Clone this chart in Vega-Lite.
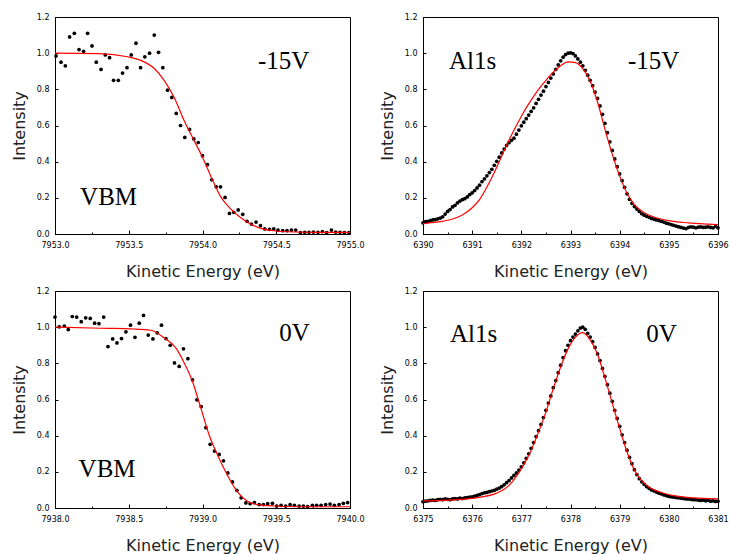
{
  "$schema": "https://vega.github.io/schema/vega-lite/v6.json",
  "padding": {"left": 10, "top": 12, "right": 0, "bottom": 5},
  "background": "white",
  "config": {
    "view": {"stroke": "black", "strokeWidth": 1},
    "axis": {
      "grid": false,
      "domainColor": "black",
      "tickColor": "black",
      "labelColor": "black",
      "labelFont": "DejaVu Sans",
      "labelFontSize": 8,
      "titleFont": "DejaVu Sans",
      "titleFontSize": 16,
      "titleFontWeight": "normal",
      "titleColor": "#222222",
      "labelFlush": false,
      "labelOverlap": false,
      "tickCount": 40
    },
    "axisX": {"titlePadding": 12, "labelPadding": 11},
    "axisY": {"titlePadding": 9, "labelPadding": 9, "tickSize": -3}
  },
  "columns": 2,
  "bounds": "flush",
  "spacing": {"row": 57, "column": 73},
  "concat": [
    {
      "width": 295, "height": 217,
      "layer": [
        {
          "data": {"name": "vbm15"},
          "mark": {"type": "point", "filled": true, "color": "black", "size": 14, "opacity": 1},
          "encoding": {
            "x": {"field": "e", "type": "quantitative", "scale": {"domain": [7953, 7955], "nice": false, "zero": false},
                  "axis": {"title": "Kinetic Energy (eV)", "tickCount": 40, "values": [7953, 7953.25, 7953.5, 7953.75, 7954, 7954.25, 7954.5, 7954.75, 7955],
                           "labelExpr": "datum.value % 0.5 == 0 ? format(datum.value, '.1f') : ''", "labelOverlap": false,
                           "tickSize": {"condition": {"test": "datum.value % 0.5 != 0", "value": -2}, "value": -4}}},
            "y": {"field": "i", "type": "quantitative", "scale": {"domain": [0, 1.2], "nice": false},
                  "axis": {"title": "Intensity", "tickCount": 40, "values": [0, 0.2, 0.4, 0.6, 0.8, 1.0, 1.2], "format": ".1f", "labelOverlap": false}}
          }
        },
        {
          "data": {"name": "vbm15fit"},
          "mark": {"type": "line", "color": "#ff0000", "strokeWidth": 1.2, "interpolate": "monotone"},
          "encoding": {"x": {"field": "e", "type": "quantitative"}, "y": {"field": "i", "type": "quantitative"}}
        },
        {"data": {"values": [{}]}, "mark": {"type": "text", "text": "-15V", "font": "Liberation Serif", "fontSize": 25, "align": "left", "baseline": "alphabetic", "color": "black"}, "encoding": {"x": {"datum": 7954.376}, "y": {"datum": 0.913}}},
        {"data": {"values": [{}]}, "mark": {"type": "text", "text": "VBM", "font": "Liberation Serif", "fontSize": 25, "align": "left", "baseline": "alphabetic", "color": "black"}, "encoding": {"x": {"datum": 7953.17}, "y": {"datum": 0.16}}}
      ]
    },
    {
      "width": 295, "height": 217,
      "layer": [
        {
          "data": {"name": "al15"},
          "mark": {"type": "point", "filled": true, "color": "black", "size": 14, "opacity": 1},
          "encoding": {
            "x": {"field": "e", "type": "quantitative", "scale": {"domain": [6390, 6396], "nice": false, "zero": false},
                  "axis": {"title": "Kinetic Energy (eV)", "tickCount": 40, "values": [6390, 6390.5, 6391, 6391.5, 6392, 6392.5, 6393, 6393.5, 6394, 6394.5, 6395, 6395.5, 6396],
                           "labelExpr": "datum.value % 1 == 0 ? format(datum.value, 'd') : ''", "labelOverlap": false,
                           "tickSize": {"condition": {"test": "datum.value % 1 != 0", "value": -2}, "value": -4}}},
            "y": {"field": "i", "type": "quantitative", "scale": {"domain": [0, 1.2], "nice": false},
                  "axis": {"title": "Intensity", "tickCount": 40, "values": [0, 0.2, 0.4, 0.6, 0.8, 1.0, 1.2], "format": ".1f", "labelOverlap": false}}
          }
        },
        {
          "data": {"name": "al15fit"},
          "mark": {"type": "line", "color": "#ff0000", "strokeWidth": 1.2, "interpolate": "monotone"},
          "encoding": {"x": {"field": "e", "type": "quantitative"}, "y": {"field": "i", "type": "quantitative"}}
        },
        {"data": {"values": [{}]}, "mark": {"type": "text", "text": "Al1s", "font": "Liberation Serif", "fontSize": 25, "align": "left", "baseline": "alphabetic", "color": "black"}, "encoding": {"x": {"datum": 6390.53}, "y": {"datum": 0.913}}},
        {"data": {"values": [{}]}, "mark": {"type": "text", "text": "-15V", "font": "Liberation Serif", "fontSize": 25, "align": "left", "baseline": "alphabetic", "color": "black"}, "encoding": {"x": {"datum": 6394.17}, "y": {"datum": 0.913}}}
      ]
    },
    {
      "width": 295, "height": 217,
      "layer": [
        {
          "data": {"name": "vbm0"},
          "mark": {"type": "point", "filled": true, "color": "black", "size": 14, "opacity": 1},
          "encoding": {
            "x": {"field": "e", "type": "quantitative", "scale": {"domain": [7938, 7940], "nice": false, "zero": false},
                  "axis": {"title": "Kinetic Energy (eV)", "tickCount": 40, "values": [7938, 7938.25, 7938.5, 7938.75, 7939, 7939.25, 7939.5, 7939.75, 7940],
                           "labelExpr": "datum.value % 0.5 == 0 ? format(datum.value, '.1f') : ''", "labelOverlap": false,
                           "tickSize": {"condition": {"test": "datum.value % 0.5 != 0", "value": -2}, "value": -4}}},
            "y": {"field": "i", "type": "quantitative", "scale": {"domain": [0, 1.2], "nice": false},
                  "axis": {"title": "Intensity", "tickCount": 40, "values": [0, 0.2, 0.4, 0.6, 0.8, 1.0, 1.2], "format": ".1f", "labelOverlap": false}}
          }
        },
        {
          "data": {"name": "vbm0fit"},
          "mark": {"type": "line", "color": "#ff0000", "strokeWidth": 1.2, "interpolate": "monotone"},
          "encoding": {"x": {"field": "e", "type": "quantitative"}, "y": {"field": "i", "type": "quantitative"}}
        },
        {"data": {"values": [{}]}, "mark": {"type": "text", "text": "0V", "font": "Liberation Serif", "fontSize": 25, "align": "left", "baseline": "alphabetic", "color": "black"}, "encoding": {"x": {"datum": 7939.52}, "y": {"datum": 0.922}}},
        {"data": {"values": [{}]}, "mark": {"type": "text", "text": "VBM", "font": "Liberation Serif", "fontSize": 25, "align": "left", "baseline": "alphabetic", "color": "black"}, "encoding": {"x": {"datum": 7938.16}, "y": {"datum": 0.172}}}
      ]
    },
    {
      "width": 295, "height": 217,
      "layer": [
        {
          "data": {"name": "al0"},
          "mark": {"type": "point", "filled": true, "color": "black", "size": 14, "opacity": 1},
          "encoding": {
            "x": {"field": "e", "type": "quantitative", "scale": {"domain": [6375, 6381], "nice": false, "zero": false},
                  "axis": {"title": "Kinetic Energy (eV)", "tickCount": 40, "values": [6375, 6375.5, 6376, 6376.5, 6377, 6377.5, 6378, 6378.5, 6379, 6379.5, 6380, 6380.5, 6381],
                           "labelExpr": "datum.value % 1 == 0 ? format(datum.value, 'd') : ''", "labelOverlap": false,
                           "tickSize": {"condition": {"test": "datum.value % 1 != 0", "value": -2}, "value": -4}}},
            "y": {"field": "i", "type": "quantitative", "scale": {"domain": [0, 1.2], "nice": false},
                  "axis": {"title": "Intensity", "tickCount": 40, "values": [0, 0.2, 0.4, 0.6, 0.8, 1.0, 1.2], "format": ".1f", "labelOverlap": false}}
          }
        },
        {
          "data": {"name": "al0fit"},
          "mark": {"type": "line", "color": "#ff0000", "strokeWidth": 1.2, "interpolate": "monotone"},
          "encoding": {"x": {"field": "e", "type": "quantitative"}, "y": {"field": "i", "type": "quantitative"}}
        },
        {"data": {"values": [{}]}, "mark": {"type": "text", "text": "Al1s", "font": "Liberation Serif", "fontSize": 25, "align": "left", "baseline": "alphabetic", "color": "black"}, "encoding": {"x": {"datum": 6375.55}, "y": {"datum": 0.918}}},
        {"data": {"values": [{}]}, "mark": {"type": "text", "text": "0V", "font": "Liberation Serif", "fontSize": 25, "align": "left", "baseline": "alphabetic", "color": "black"}, "encoding": {"x": {"datum": 6379.54}, "y": {"datum": 0.918}}}
      ]
    }
  ],
  "datasets": {
    "vbm15": [
      {"e":7953.007,"i":0.985},{"e":7953.041,"i":0.95},{"e":7953.070,"i":0.93},{"e":7953.099,"i":1.09},{"e":7953.131,"i":1.11},
      {"e":7953.163,"i":1.02},{"e":7953.194,"i":1.01},{"e":7953.221,"i":1.11},{"e":7953.251,"i":1.04},{"e":7953.280,"i":0.95},
      {"e":7953.312,"i":0.91},{"e":7953.341,"i":0.99},{"e":7953.370,"i":0.975},{"e":7953.397,"i":0.85},{"e":7953.429,"i":0.85},
      {"e":7953.458,"i":0.89},{"e":7953.488,"i":0.92},{"e":7953.517,"i":0.99},{"e":7953.549,"i":1.055},{"e":7953.580,"i":0.92},
      {"e":7953.609,"i":0.98},{"e":7953.641,"i":1.0},{"e":7953.673,"i":1.10},{"e":7953.702,"i":1.005},{"e":7953.731,"i":0.92},
      {"e":7953.763,"i":0.795},{"e":7953.792,"i":0.755},{"e":7953.822,"i":0.667},{"e":7953.851,"i":0.60},{"e":7953.880,"i":0.534},
      {"e":7953.912,"i":0.578},{"e":7953.941,"i":0.526},{"e":7953.971,"i":0.506},{"e":7954.000,"i":0.433},{"e":7954.034,"i":0.383},
      {"e":7954.063,"i":0.30},{"e":7954.093,"i":0.261},{"e":7954.122,"i":0.261},{"e":7954.153,"i":0.202},{"e":7954.183,"i":0.114},
      {"e":7954.212,"i":0.12},{"e":7954.242,"i":0.133},{"e":7954.273,"i":0.109},{"e":7954.302,"i":0.07},{"e":7954.332,"i":0.055},
      {"e":7954.363,"i":0.066},{"e":7954.393,"i":0.046},{"e":7954.422,"i":0.028},{"e":7954.454,"i":0.026},{"e":7954.483,"i":0.028},
      {"e":7954.512,"i":0.022},{"e":7954.544,"i":0.018},{"e":7954.573,"i":0.018},{"e":7954.603,"i":0.022},{"e":7954.632,"i":0.022},
      {"e":7954.664,"i":0.007},{"e":7954.693,"i":0.009},{"e":7954.722,"i":0.009},{"e":7954.752,"i":0.011},{"e":7954.783,"i":0.009},
      {"e":7954.813,"i":0.013},{"e":7954.842,"i":0.007},{"e":7954.874,"i":0.022},{"e":7954.903,"i":0.011},{"e":7954.932,"i":0.009},
      {"e":7954.962,"i":0.007},{"e":7954.993,"i":0.007}
    ],
    "vbm15fit": [
      {"e":7953.0,"i":1.0},{"e":7953.3,"i":0.998},{"e":7953.492,"i":0.98},{"e":7953.582,"i":0.96},{"e":7953.673,"i":0.915},
      {"e":7953.74,"i":0.85},{"e":7953.808,"i":0.755},{"e":7953.876,"i":0.626},{"e":7953.944,"i":0.515},{"e":7954.0,"i":0.425},
      {"e":7954.056,"i":0.32},{"e":7954.124,"i":0.205},{"e":7954.192,"i":0.138},{"e":7954.26,"i":0.09},{"e":7954.327,"i":0.055},
      {"e":7954.395,"i":0.031},{"e":7954.485,"i":0.018},{"e":7954.621,"i":0.011},{"e":7954.779,"i":0.009},{"e":7955.0,"i":0.009}
    ],
    "vbm0": [
      {"e":7938.000,"i":1.056},{"e":7938.029,"i":1.002},{"e":7938.063,"i":1.006},{"e":7938.090,"i":0.987},{"e":7938.117,"i":1.059},
      {"e":7938.147,"i":1.056},{"e":7938.178,"i":1.03},{"e":7938.208,"i":1.052},{"e":7938.239,"i":1.048},{"e":7938.269,"i":1.022},
      {"e":7938.298,"i":1.019},{"e":7938.330,"i":1.056},{"e":7938.359,"i":0.893},{"e":7938.391,"i":0.935},{"e":7938.420,"i":0.913},
      {"e":7938.451,"i":0.937},{"e":7938.481,"i":0.974},{"e":7938.512,"i":1.011},{"e":7938.542,"i":0.944},{"e":7938.571,"i":1.022},
      {"e":7938.600,"i":1.065},{"e":7938.632,"i":0.956},{"e":7938.664,"i":0.935},{"e":7938.693,"i":0.969},{"e":7938.722,"i":1.011},
      {"e":7938.752,"i":0.937},{"e":7938.781,"i":0.9},{"e":7938.810,"i":0.802},{"e":7938.842,"i":0.783},{"e":7938.871,"i":0.88},
      {"e":7938.901,"i":0.826},{"e":7938.932,"i":0.709},{"e":7938.962,"i":0.598},{"e":7938.991,"i":0.561},{"e":7939.023,"i":0.444},
      {"e":7939.052,"i":0.352},{"e":7939.081,"i":0.315},{"e":7939.113,"i":0.296},{"e":7939.142,"i":0.261},{"e":7939.172,"i":0.194},
      {"e":7939.203,"i":0.144},{"e":7939.233,"i":0.098},{"e":7939.262,"i":0.056},{"e":7939.294,"i":0.028},{"e":7939.323,"i":0.024},
      {"e":7939.352,"i":0.030},{"e":7939.384,"i":0.019},{"e":7939.413,"i":0.019},{"e":7939.442,"i":0.024},{"e":7939.474,"i":0.026},
      {"e":7939.503,"i":0.011},{"e":7939.533,"i":0.015},{"e":7939.564,"i":0.011},{"e":7939.594,"i":0.019},{"e":7939.623,"i":0.015},
      {"e":7939.655,"i":0.011},{"e":7939.684,"i":0.011},{"e":7939.713,"i":0.007},{"e":7939.745,"i":0.015},{"e":7939.774,"i":0.015},
      {"e":7939.804,"i":0.015},{"e":7939.835,"i":0.019},{"e":7939.865,"i":0.022},{"e":7939.894,"i":0.015},{"e":7939.926,"i":0.019},
      {"e":7939.955,"i":0.026},{"e":7939.984,"i":0.030}
    ],
    "vbm0fit": [
      {"e":7938.0,"i":1.0},{"e":7938.312,"i":0.994},{"e":7938.537,"i":0.99},{"e":7938.65,"i":0.983},{"e":7938.74,"i":0.94},
      {"e":7938.819,"i":0.885},{"e":7938.876,"i":0.802},{"e":7938.932,"i":0.70},{"e":7938.989,"i":0.552},{"e":7939.045,"i":0.404},
      {"e":7939.102,"i":0.293},{"e":7939.169,"i":0.181},{"e":7939.237,"i":0.089},{"e":7939.305,"i":0.037},{"e":7939.372,"i":0.019},
      {"e":7939.485,"i":0.011},{"e":7939.666,"i":0.007},{"e":7940.0,"i":0.007}
    ],
    "al15": [
      {"e":6390.00,"i":0.062},{"e":6390.05,"i":0.068},{"e":6390.10,"i":0.070},{"e":6390.15,"i":0.074},{"e":6390.20,"i":0.078},
      {"e":6390.25,"i":0.080},{"e":6390.30,"i":0.084},{"e":6390.35,"i":0.088},{"e":6390.40,"i":0.095},{"e":6390.45,"i":0.110},
      {"e":6390.50,"i":0.125},{"e":6390.55,"i":0.135},{"e":6390.60,"i":0.150},{"e":6390.65,"i":0.158},{"e":6390.70,"i":0.172},
      {"e":6390.75,"i":0.182},{"e":6390.80,"i":0.190},{"e":6390.85,"i":0.195},{"e":6390.90,"i":0.205},{"e":6390.95,"i":0.218},
      {"e":6391.00,"i":0.228},{"e":6391.05,"i":0.240},{"e":6391.10,"i":0.255},{"e":6391.15,"i":0.270},{"e":6391.20,"i":0.290},
      {"e":6391.25,"i":0.305},{"e":6391.30,"i":0.322},{"e":6391.35,"i":0.340},{"e":6391.40,"i":0.358},{"e":6391.45,"i":0.380},
      {"e":6391.50,"i":0.402},{"e":6391.55,"i":0.425},{"e":6391.60,"i":0.448},{"e":6391.65,"i":0.470},{"e":6391.70,"i":0.490},
      {"e":6391.75,"i":0.505},{"e":6391.80,"i":0.518},{"e":6391.85,"i":0.530},{"e":6391.90,"i":0.552},{"e":6391.95,"i":0.575},
      {"e":6392.00,"i":0.598},{"e":6392.05,"i":0.618},{"e":6392.10,"i":0.638},{"e":6392.15,"i":0.658},{"e":6392.20,"i":0.678},
      {"e":6392.25,"i":0.698},{"e":6392.30,"i":0.722},{"e":6392.35,"i":0.745},{"e":6392.40,"i":0.768},{"e":6392.45,"i":0.790},
      {"e":6392.50,"i":0.815},{"e":6392.55,"i":0.838},{"e":6392.60,"i":0.862},{"e":6392.65,"i":0.885},{"e":6392.70,"i":0.910},
      {"e":6392.75,"i":0.935},{"e":6392.80,"i":0.958},{"e":6392.85,"i":0.978},{"e":6392.90,"i":0.992},{"e":6392.95,"i":1.000},
      {"e":6393.00,"i":1.002},{"e":6393.05,"i":0.998},{"e":6393.10,"i":0.985},{"e":6393.15,"i":0.968},{"e":6393.20,"i":0.950},
      {"e":6393.25,"i":0.930},{"e":6393.30,"i":0.905},{"e":6393.35,"i":0.878},{"e":6393.40,"i":0.850},{"e":6393.45,"i":0.820},
      {"e":6393.50,"i":0.785},{"e":6393.55,"i":0.750},{"e":6393.60,"i":0.708},{"e":6393.65,"i":0.662},{"e":6393.70,"i":0.612},
      {"e":6393.75,"i":0.560},{"e":6393.80,"i":0.510},{"e":6393.85,"i":0.462},{"e":6393.90,"i":0.415},{"e":6393.95,"i":0.372},
      {"e":6394.00,"i":0.332},{"e":6394.05,"i":0.295},{"e":6394.10,"i":0.258},{"e":6394.15,"i":0.222},{"e":6394.20,"i":0.192},
      {"e":6394.25,"i":0.170},{"e":6394.30,"i":0.152},{"e":6394.35,"i":0.138},{"e":6394.40,"i":0.125},{"e":6394.45,"i":0.112},
      {"e":6394.50,"i":0.104},{"e":6394.55,"i":0.098},{"e":6394.60,"i":0.092},{"e":6394.65,"i":0.086},{"e":6394.70,"i":0.082},
      {"e":6394.75,"i":0.078},{"e":6394.80,"i":0.074},{"e":6394.85,"i":0.070},{"e":6394.90,"i":0.066},{"e":6394.95,"i":0.060},
      {"e":6395.00,"i":0.056},{"e":6395.05,"i":0.052},{"e":6395.10,"i":0.048},{"e":6395.15,"i":0.044},{"e":6395.20,"i":0.040},
      {"e":6395.25,"i":0.036},{"e":6395.30,"i":0.033},{"e":6395.35,"i":0.030},{"e":6395.40,"i":0.036},{"e":6395.45,"i":0.040},
      {"e":6395.50,"i":0.038},{"e":6395.55,"i":0.034},{"e":6395.60,"i":0.038},{"e":6395.65,"i":0.040},{"e":6395.70,"i":0.036},
      {"e":6395.75,"i":0.038},{"e":6395.80,"i":0.040},{"e":6395.85,"i":0.036},{"e":6395.90,"i":0.034},{"e":6395.95,"i":0.042},
      {"e":6396.00,"i":0.034}
    ],
    "al15fit": [
      {"e":6390.0,"i":0.058},{"e":6390.3,"i":0.067},{"e":6390.6,"i":0.083},{"e":6390.8,"i":0.105},{"e":6391.0,"i":0.145},
      {"e":6391.15,"i":0.19},{"e":6391.3,"i":0.26},{"e":6391.45,"i":0.34},{"e":6391.6,"i":0.43},{"e":6391.75,"i":0.52},
      {"e":6391.9,"i":0.60},{"e":6392.05,"i":0.675},{"e":6392.2,"i":0.74},{"e":6392.35,"i":0.80},{"e":6392.5,"i":0.85},
      {"e":6392.65,"i":0.895},{"e":6392.8,"i":0.93},{"e":6392.95,"i":0.952},{"e":6393.1,"i":0.948},{"e":6393.25,"i":0.915},
      {"e":6393.4,"i":0.845},{"e":6393.55,"i":0.73},{"e":6393.7,"i":0.58},{"e":6393.85,"i":0.44},{"e":6394.0,"i":0.32},
      {"e":6394.15,"i":0.225},{"e":6394.3,"i":0.162},{"e":6394.5,"i":0.118},{"e":6394.7,"i":0.094},{"e":6395.0,"i":0.074},
      {"e":6395.4,"i":0.062},{"e":6395.8,"i":0.055},{"e":6396.0,"i":0.052}
    ],
    "al0": [
      {"e":6375.00,"i":0.035},{"e":6375.05,"i":0.038},{"e":6375.10,"i":0.040},{"e":6375.15,"i":0.042},{"e":6375.20,"i":0.044},
      {"e":6375.25,"i":0.042},{"e":6375.30,"i":0.046},{"e":6375.35,"i":0.048},{"e":6375.40,"i":0.046},{"e":6375.45,"i":0.050},
      {"e":6375.50,"i":0.048},{"e":6375.55,"i":0.046},{"e":6375.60,"i":0.050},{"e":6375.65,"i":0.052},{"e":6375.70,"i":0.050},
      {"e":6375.75,"i":0.054},{"e":6375.80,"i":0.052},{"e":6375.85,"i":0.056},{"e":6375.90,"i":0.058},{"e":6375.95,"i":0.060},
      {"e":6376.00,"i":0.062},{"e":6376.05,"i":0.066},{"e":6376.10,"i":0.070},{"e":6376.15,"i":0.074},{"e":6376.20,"i":0.080},
      {"e":6376.25,"i":0.084},{"e":6376.30,"i":0.086},{"e":6376.35,"i":0.090},{"e":6376.40,"i":0.094},{"e":6376.45,"i":0.098},
      {"e":6376.50,"i":0.104},{"e":6376.55,"i":0.110},{"e":6376.60,"i":0.118},{"e":6376.65,"i":0.128},{"e":6376.70,"i":0.140},
      {"e":6376.75,"i":0.152},{"e":6376.80,"i":0.166},{"e":6376.85,"i":0.180},{"e":6376.90,"i":0.194},{"e":6376.95,"i":0.210},
      {"e":6377.00,"i":0.228},{"e":6377.05,"i":0.250},{"e":6377.10,"i":0.275},{"e":6377.15,"i":0.300},{"e":6377.20,"i":0.330},
      {"e":6377.25,"i":0.362},{"e":6377.30,"i":0.395},{"e":6377.35,"i":0.428},{"e":6377.40,"i":0.462},{"e":6377.45,"i":0.500},
      {"e":6377.50,"i":0.540},{"e":6377.55,"i":0.580},{"e":6377.60,"i":0.620},{"e":6377.65,"i":0.665},{"e":6377.70,"i":0.705},
      {"e":6377.75,"i":0.748},{"e":6377.80,"i":0.790},{"e":6377.85,"i":0.832},{"e":6377.90,"i":0.870},{"e":6377.95,"i":0.900},
      {"e":6378.00,"i":0.925},{"e":6378.05,"i":0.945},{"e":6378.10,"i":0.962},{"e":6378.15,"i":0.980},{"e":6378.20,"i":0.995},
      {"e":6378.25,"i":1.000},{"e":6378.30,"i":0.988},{"e":6378.35,"i":0.965},{"e":6378.40,"i":0.945},{"e":6378.45,"i":0.920},
      {"e":6378.50,"i":0.888},{"e":6378.55,"i":0.852},{"e":6378.60,"i":0.815},{"e":6378.65,"i":0.772},{"e":6378.70,"i":0.728},
      {"e":6378.75,"i":0.682},{"e":6378.80,"i":0.635},{"e":6378.85,"i":0.590},{"e":6378.90,"i":0.540},{"e":6378.95,"i":0.495},
      {"e":6379.00,"i":0.452},{"e":6379.05,"i":0.405},{"e":6379.10,"i":0.362},{"e":6379.15,"i":0.320},{"e":6379.20,"i":0.280},
      {"e":6379.25,"i":0.245},{"e":6379.30,"i":0.212},{"e":6379.35,"i":0.185},{"e":6379.40,"i":0.162},{"e":6379.45,"i":0.145},
      {"e":6379.50,"i":0.130},{"e":6379.55,"i":0.118},{"e":6379.60,"i":0.108},{"e":6379.65,"i":0.100},{"e":6379.70,"i":0.094},
      {"e":6379.75,"i":0.088},{"e":6379.80,"i":0.082},{"e":6379.85,"i":0.078},{"e":6379.90,"i":0.072},{"e":6379.95,"i":0.068},
      {"e":6380.00,"i":0.064},{"e":6380.05,"i":0.062},{"e":6380.10,"i":0.060},{"e":6380.15,"i":0.058},{"e":6380.20,"i":0.056},
      {"e":6380.25,"i":0.054},{"e":6380.30,"i":0.052},{"e":6380.35,"i":0.050},{"e":6380.40,"i":0.050},{"e":6380.45,"i":0.048},
      {"e":6380.50,"i":0.046},{"e":6380.55,"i":0.046},{"e":6380.60,"i":0.044},{"e":6380.65,"i":0.042},{"e":6380.70,"i":0.044},
      {"e":6380.75,"i":0.040},{"e":6380.80,"i":0.042},{"e":6380.85,"i":0.038},{"e":6380.90,"i":0.040},{"e":6380.95,"i":0.036},
      {"e":6381.00,"i":0.038}
    ],
    "al0fit": [
      {"e":6375.0,"i":0.039},{"e":6375.5,"i":0.044},{"e":6375.9,"i":0.05},{"e":6376.2,"i":0.062},{"e":6376.45,"i":0.077},
      {"e":6376.6,"i":0.095},{"e":6376.75,"i":0.125},{"e":6376.9,"i":0.175},{"e":6377.05,"i":0.24},{"e":6377.2,"i":0.32},
      {"e":6377.35,"i":0.42},{"e":6377.5,"i":0.53},{"e":6377.65,"i":0.66},{"e":6377.8,"i":0.78},{"e":6377.95,"i":0.88},
      {"e":6378.1,"i":0.945},{"e":6378.25,"i":0.97},{"e":6378.4,"i":0.93},{"e":6378.55,"i":0.85},{"e":6378.7,"i":0.72},
      {"e":6378.85,"i":0.58},{"e":6379.0,"i":0.44},{"e":6379.15,"i":0.31},{"e":6379.3,"i":0.21},{"e":6379.45,"i":0.15},
      {"e":6379.6,"i":0.115},{"e":6379.8,"i":0.09},{"e":6380.1,"i":0.068},{"e":6380.5,"i":0.056},{"e":6381.0,"i":0.05}
    ]
  }
}
